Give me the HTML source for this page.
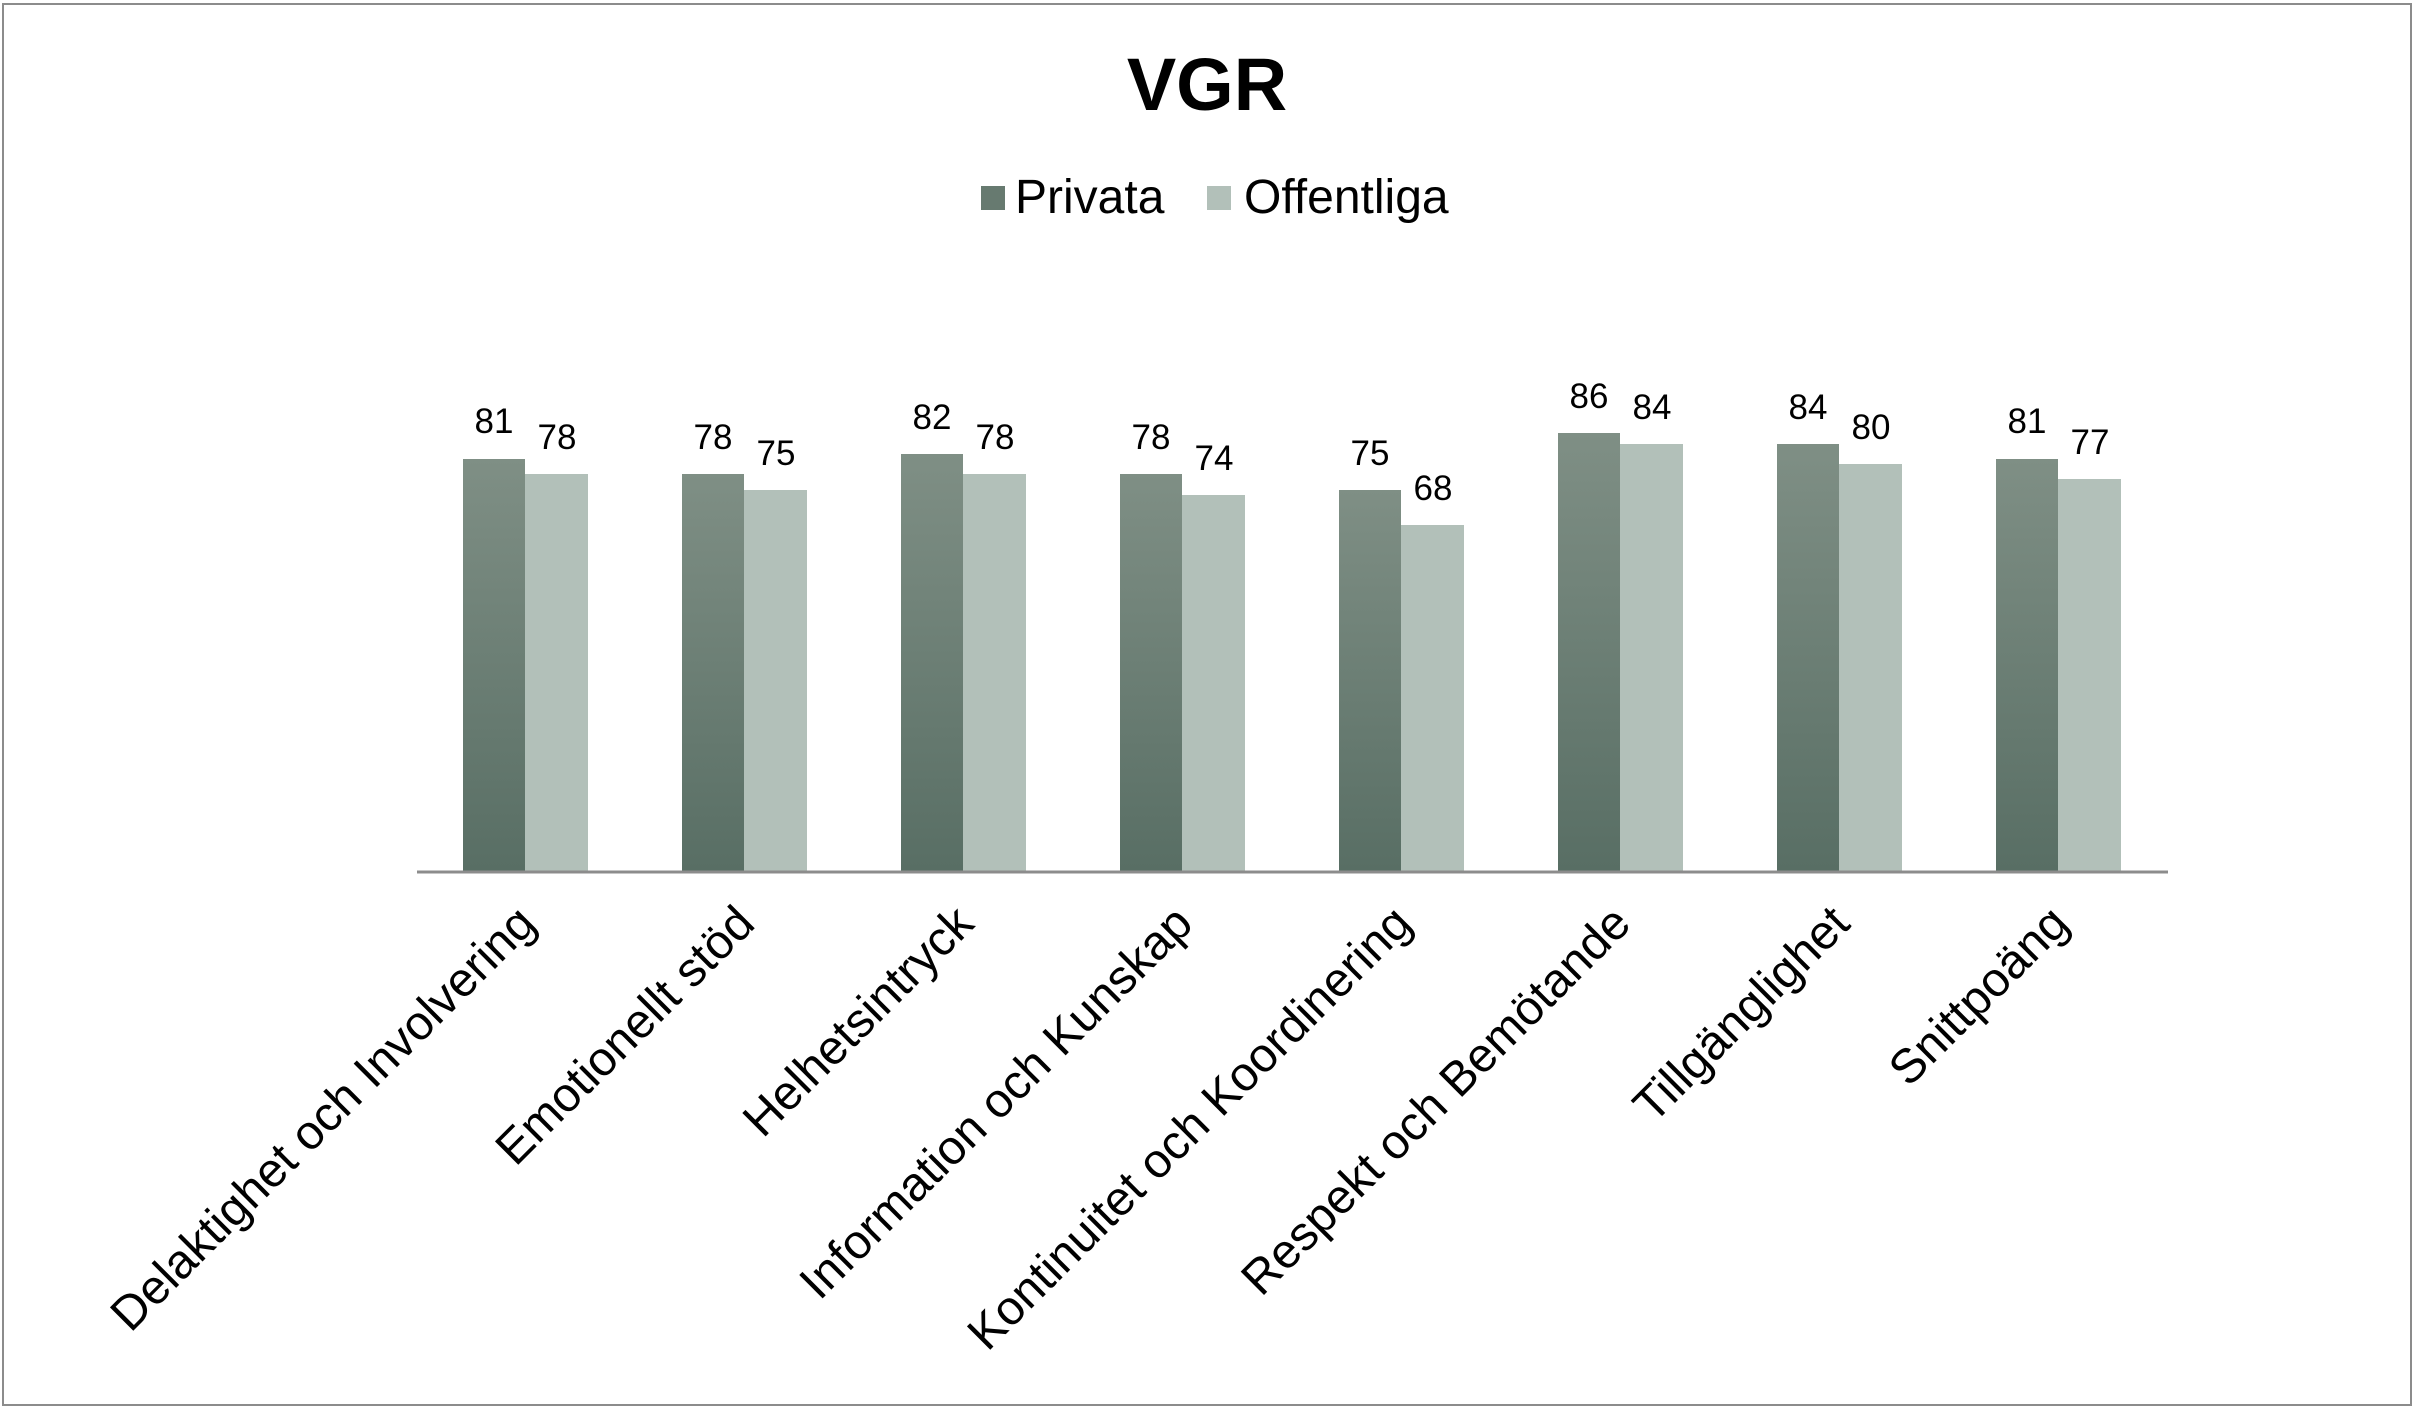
<!DOCTYPE html>
<html><head><meta charset="utf-8"><style>html,body{margin:0;padding:0;background:#fff}</style></head>
<body>
<svg width="2415" height="1411" viewBox="0 0 2415 1411" xmlns="http://www.w3.org/2000/svg" font-family="Liberation Sans, Arial, sans-serif">
<defs>
<linearGradient id="dk" x1="0" y1="0" x2="0" y2="1"><stop offset="0" stop-color="#7f8f85"/><stop offset="1" stop-color="#586e64"/></linearGradient>
</defs>
<rect x="3" y="4" width="2408" height="1401" fill="#fff" stroke="#8c8c8c" stroke-width="2"/>
<text x="1207" y="110" font-size="74" font-weight="bold" text-anchor="middle">VGR</text>
<rect x="981" y="186" width="24" height="24" fill="#677a70"/>
<text x="1015" y="213" font-size="48">Privata</text>
<rect x="1207" y="186" width="24" height="24" fill="#b2c0b9"/>
<text x="1244" y="213" font-size="48">Offentliga</text>
<g font-size="35" text-anchor="middle">
<rect x="463" y="459" width="62" height="413" fill="url(#dk)"/><rect x="525" y="474" width="63" height="398" fill="#b2c0b9"/>
<text x="494" y="433">81</text><text x="557" y="449">78</text>
<rect x="682" y="474" width="62" height="398" fill="url(#dk)"/><rect x="744" y="490" width="63" height="382" fill="#b2c0b9"/>
<text x="713" y="449">78</text><text x="776" y="465">75</text>
<rect x="901" y="454" width="62" height="418" fill="url(#dk)"/><rect x="963" y="474" width="63" height="398" fill="#b2c0b9"/>
<text x="932" y="429">82</text><text x="995" y="449">78</text>
<rect x="1120" y="474" width="62" height="398" fill="url(#dk)"/><rect x="1182" y="495" width="63" height="377" fill="#b2c0b9"/>
<text x="1151" y="449">78</text><text x="1214" y="470">74</text>
<rect x="1339" y="490" width="62" height="382" fill="url(#dk)"/><rect x="1401" y="525" width="63" height="347" fill="#b2c0b9"/>
<text x="1370" y="465">75</text><text x="1433" y="500">68</text>
<rect x="1558" y="433" width="62" height="439" fill="url(#dk)"/><rect x="1620" y="444" width="63" height="428" fill="#b2c0b9"/>
<text x="1589" y="408">86</text><text x="1652" y="419">84</text>
<rect x="1777" y="444" width="62" height="428" fill="url(#dk)"/><rect x="1839" y="464" width="63" height="408" fill="#b2c0b9"/>
<text x="1808" y="419">84</text><text x="1871" y="439">80</text>
<rect x="1996" y="459" width="62" height="413" fill="url(#dk)"/><rect x="2058" y="479" width="63" height="393" fill="#b2c0b9"/>
<text x="2027" y="433">81</text><text x="2090" y="454">77</text>
</g>
<line x1="417" y1="872" x2="2168" y2="872" stroke="#8c8c8c" stroke-width="3"/>
<g font-size="48" text-anchor="end">
<text transform="translate(538,926) rotate(-45)">Delaktighet och Involvering</text>
<text transform="translate(757,926) rotate(-45)">Emotionellt stöd</text>
<text transform="translate(976,926) rotate(-45)">Helhetsintryck</text>
<text transform="translate(1195,926) rotate(-45)">Information och Kunskap</text>
<text transform="translate(1414,926) rotate(-45)">Kontinuitet och Koordinering</text>
<text transform="translate(1633,926) rotate(-45)">Respekt och Bemötande</text>
<text transform="translate(1852,926) rotate(-45)">Tillgänglighet</text>
<text transform="translate(2071,926) rotate(-45)">Snittpoäng</text>
</g>
</svg>
</body></html>
